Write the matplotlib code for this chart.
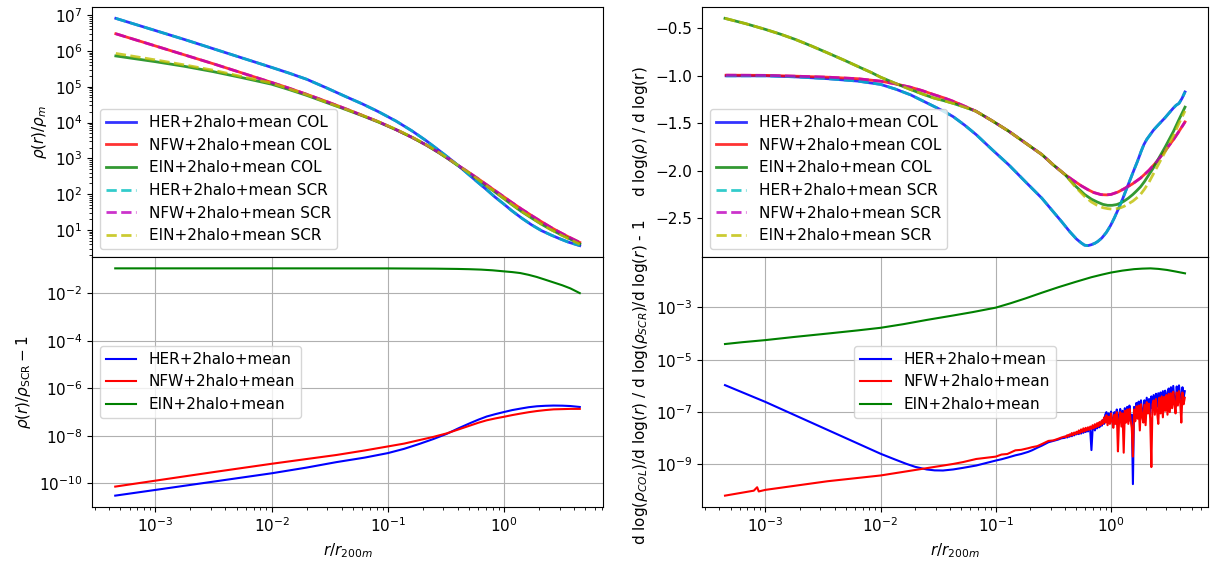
import matplotlib

matplotlib.use("Agg")
import matplotlib.pyplot as plt
import matplotlib.ticker as mticker
import numpy as np

plt.rcParams["font.size"] = 11

# All curves are stored as log10 values, sampled at log10(r / r200m).

# ---- density profiles, rho(r) / rho_m ----
dens_x = [-3.34, -3.17, -3.0, -2.75, -2.5, -2.25, -2.0, -1.85, -1.7, -1.53,
          -1.36, -1.22, -1.08, -0.93, -0.79, -0.67, -0.56, -0.48, -0.40, -0.31,
          -0.22, -0.15, -0.08, -0.01, 0.064, 0.15, 0.236, 0.32, 0.407, 0.48,
          0.55, 0.60, 0.65]
her_dens = [6.91, 6.74, 6.57, 6.32, 6.06, 5.80, 5.54, 5.38, 5.21, 4.97,
            4.72, 4.52, 4.30, 4.04, 3.76, 3.49, 3.22, 3.02, 2.81, 2.56,
            2.31, 2.12, 1.92, 1.74, 1.54, 1.33, 1.14, 0.98, 0.85, 0.75,
            0.66, 0.61, 0.56]
nfw_dens = [6.48, 6.31, 6.14, 5.89, 5.64, 5.38, 5.12, 4.96, 4.79, 4.59,
            4.38, 4.20, 4.02, 3.80, 3.58, 3.37, 3.16, 2.99, 2.81, 2.62,
            2.42, 2.26, 2.10, 1.94, 1.77, 1.58, 1.40, 1.23, 1.06, 0.93,
            0.81, 0.73, 0.65]
ein_dens = [5.86, 5.78, 5.70, 5.57, 5.42, 5.25, 5.07, 4.92, 4.76, 4.56,
            4.36, 4.19, 4.01, 3.80, 3.58, 3.37, 3.15, 2.98, 2.80, 2.60,
            2.39, 2.22, 2.06, 1.89, 1.71, 1.51, 1.33, 1.16, 1.00, 0.88,
            0.77, 0.69, 0.61]
ein_dens_scr = [5.93, 5.84, 5.75, 5.61, 5.46, 5.28, 5.10, 4.94, 4.78, 4.57,
                4.37, 4.20, 4.02, 3.81, 3.59, 3.38, 3.16, 2.99, 2.81, 2.61,
                2.40, 2.23, 2.07, 1.90, 1.72, 1.52, 1.34, 1.16, 1.00, 0.87,
                0.76, 0.68, 0.60]

# ---- logarithmic slope d log(rho) / d log(r) (linear values) ----
her_slope_x = [-3.34, -3.0, -2.75, -2.46, -2.2, -2.0, -1.87, -1.74, -1.64,
               -1.54, -1.45, -1.37, -1.27, -1.17, -1.03, -0.886, -0.74, -0.6,
               -0.51, -0.43, -0.36, -0.30, -0.26, -0.23, -0.20, -0.17, -0.14,
               -0.115, -0.08, -0.04, -0.005, 0.028, 0.065, 0.10, 0.135, 0.171,
               0.20, 0.23, 0.26, 0.285, 0.31, 0.34, 0.37, 0.40, 0.435, 0.47,
               0.505, 0.542, 0.565, 0.59, 0.615, 0.642]
her_slope = [-1.00, -1.00, -1.01, -1.03, -1.055, -1.09, -1.14, -1.20, -1.26,
             -1.32, -1.375, -1.43, -1.52, -1.62, -1.78, -1.94, -2.12, -2.29,
             -2.42, -2.535, -2.64, -2.72, -2.76, -2.785, -2.79, -2.78, -2.765,
             -2.746, -2.71, -2.65, -2.58, -2.50, -2.40, -2.30, -2.19, -2.08,
             -1.99, -1.90, -1.80, -1.725, -1.67, -1.62, -1.57, -1.53, -1.485,
             -1.44, -1.39, -1.338, -1.31, -1.29, -1.24, -1.17]
nfw_slope_x = [-3.34, -3.0, -2.75, -2.46, -2.2, -2.0, -1.87, -1.74, -1.64,
               -1.54, -1.45, -1.37, -1.27, -1.172, -1.03, -0.886, -0.74, -0.6,
               -0.5, -0.40, -0.33, -0.257, -0.2, -0.15, -0.087, -0.04, 0.0,
               0.06, 0.114, 0.185, 0.256, 0.33, 0.40, 0.47, 0.542, 0.59, 0.642]
nfw_slope = [-0.993, -0.995, -1.003, -1.014, -1.03, -1.056, -1.085, -1.12,
             -1.155, -1.197, -1.232, -1.268, -1.32, -1.373, -1.475, -1.585,
             -1.71, -1.83, -1.94, -2.04, -2.10, -2.16, -2.20, -2.23, -2.252,
             -2.255, -2.25, -2.225, -2.19, -2.14, -2.078, -1.995, -1.90, -1.79,
             -1.672, -1.585, -1.486]
ein_slope_x = [-3.35, -3.17, -3.0, -2.87, -2.74, -2.6, -2.46, -2.31, -2.17,
               -2.08, -2.0, -1.87, -1.74, -1.64, -1.54, -1.45, -1.37, -1.27,
               -1.172, -1.03, -0.886, -0.74, -0.6, -0.5, -0.40, -0.31, -0.23,
               -0.17, -0.12, -0.07, -0.03, 0.01, 0.05, 0.085, 0.114, 0.15,
               0.19, 0.22, 0.256, 0.29, 0.33, 0.365, 0.40, 0.435, 0.47, 0.505,
               0.542, 0.59, 0.642]
ein_slope = [-0.394, -0.45, -0.51, -0.56, -0.616, -0.685, -0.758, -0.838,
             -0.916, -0.965, -1.014, -1.08, -1.144, -1.19, -1.233, -1.262,
             -1.29, -1.33, -1.373, -1.475, -1.585, -1.71, -1.83, -1.94, -2.04,
             -2.16, -2.25, -2.30, -2.33, -2.355, -2.365, -2.365, -2.357, -2.34,
             -2.32, -2.29, -2.25, -2.215, -2.17, -2.115, -2.04, -1.975, -1.90,
             -1.825, -1.75, -1.67, -1.585, -1.46, -1.33]
ein_slope_scr = [-0.394, -0.45, -0.51, -0.56, -0.616, -0.685, -0.758, -0.838,
                 -0.916, -0.965, -1.014, -1.08, -1.144, -1.19, -1.233, -1.262,
                 -1.29, -1.33, -1.373, -1.475, -1.585, -1.71, -1.83, -1.94,
                 -2.04, -2.17, -2.27, -2.33, -2.365, -2.39, -2.40, -2.405,
                 -2.40, -2.39, -2.375, -2.35, -2.32, -2.29, -2.25, -2.195,
                 -2.12, -2.04, -1.96, -1.88, -1.80, -1.715, -1.63, -1.50, -1.37]

# ---- rho_COL / rho_SCR - 1 ----
rat_x = [-3.345, -3.0, -2.5, -2.0, -1.7, -1.443, -1.2, -1.0, -0.86, -0.727,
         -0.61, -0.494, -0.39, -0.293, -0.22, -0.15, -0.075, 0.0, 0.07, 0.138,
         0.21, 0.282, 0.355, 0.425, 0.5, 0.569, 0.65]
her_rat = [-10.52, -10.28, -9.93, -9.58, -9.34, -9.11, -8.92, -8.73, -8.55,
           -8.34, -8.14, -7.92, -7.68, -7.47, -7.32, -7.19, -7.09, -7.00,
           -6.92, -6.86, -6.80, -6.76, -6.74, -6.73, -6.735, -6.75, -6.79]
nfw_rat = [-10.14, -9.89, -9.53, -9.18, -8.98, -8.81, -8.62, -8.45, -8.33,
           -8.18, -8.05, -7.90, -7.73, -7.57, -7.45, -7.35, -7.27, -7.20,
           -7.13, -7.07, -7.01, -6.96, -6.92, -6.89, -6.88, -6.87, -6.87]
ein_rat_x = [-3.345, -2.0, -1.0, -0.6, -0.4, -0.3, -0.2, -0.1, 0.0, 0.07,
             0.138, 0.21, 0.28, 0.35, 0.425, 0.5, 0.569, 0.65]
ein_rat = [-0.958, -0.958, -0.960, -0.970, -0.982, -0.993, -1.01, -1.04,
           -1.085, -1.115, -1.155, -1.23, -1.32, -1.43, -1.55, -1.67, -1.80,
           -2.0]

# ---- slope ratio COL / SCR - 1 ----
ein_sr_x = [-3.35, -3.2, -3.0, -2.75, -2.46, -2.2, -2.0, -1.8, -1.6, -1.37,
            -1.2, -1.0, -0.87, -0.744, -0.6, -0.457, -0.31, -0.172, -0.08,
            0.0, 0.1, 0.2, 0.27, 0.342, 0.41, 0.485, 0.56, 0.642]
ein_sr = [-4.40, -4.33, -4.25, -4.13, -4.00, -3.88, -3.78, -3.64, -3.48,
          -3.31, -3.18, -3.01, -2.84, -2.66, -2.44, -2.23, -2.03, -1.85,
          -1.75, -1.67, -1.595, -1.54, -1.52, -1.51, -1.53, -1.57, -1.63, -1.70]

# smooth inner part of HER and NFW
her_sr_in_x = [-3.35, -3.0, -2.5, -2.0, -1.88, -1.78, -1.70, -1.6, -1.53,
               -1.458, -1.37, -1.286, -1.17, -1.0, -0.95, -0.90, -0.83, -0.78,
               -0.72, -0.686, -0.64, -0.60, -0.543, -0.50, -0.46, -0.43]
her_sr_in = [-5.97, -6.61, -7.60, -8.59, -8.80, -8.97, -9.09, -9.19, -9.225,
             -9.23, -9.19, -9.13, -9.04, -8.85, -8.80, -8.74, -8.65, -8.60,
             -8.52, -8.46, -8.36, -8.28, -8.15, -8.10, -8.05, -8.00]
nfw_sr_in_x = [-3.35, -3.10, -3.071, -3.057, -3.0, -2.46, -2.0, -1.6, -1.458,
               -1.37, -1.286, -1.17, -1.0, -0.95, -0.90, -0.83, -0.78, -0.72,
               -0.686, -0.64, -0.60, -0.543, -0.50, -0.46, -0.43]
nfw_sr_in = [-10.19, -10.00, -9.87, -10.03, -9.97, -9.64, -9.42, -9.14,
             -9.04, -8.98, -8.91, -8.79, -8.70, -8.62, -8.60, -8.46, -8.44,
             -8.38, -8.34, -8.30, -8.22, -8.10, -8.08, -8.02, -7.97]

# noisy outer part, read on a 0.01 dex grid
noise_x = [-0.40, -0.39, -0.38, -0.37, -0.36, -0.35, -0.34, -0.33, -0.32, -0.31,
           -0.30, -0.29, -0.28, -0.27, -0.26, -0.25, -0.24, -0.23, -0.22, -0.21,
           -0.20, -0.19, -0.18, -0.17, -0.16, -0.15, -0.14, -0.13, -0.12, -0.11,
           -0.10, -0.09, -0.08, -0.07, -0.06, -0.05, -0.04, -0.03, -0.02, -0.01,
           0.00, 0.01, 0.02, 0.03, 0.04, 0.05, 0.06, 0.07, 0.08, 0.09,
           0.10, 0.11, 0.12, 0.13, 0.14, 0.15, 0.16, 0.17, 0.18, 0.19,
           0.20, 0.21, 0.22, 0.23, 0.24, 0.25, 0.26, 0.27, 0.28, 0.29,
           0.30, 0.31, 0.32, 0.33, 0.34, 0.35, 0.36, 0.37, 0.38, 0.39,
           0.40, 0.41, 0.42, 0.43, 0.44, 0.45, 0.46, 0.47, 0.48, 0.49,
           0.50, 0.51, 0.52, 0.53, 0.54, 0.55, 0.56, 0.57, 0.58, 0.59,
           0.60, 0.61, 0.62, 0.63, 0.64]
her_sr_out = [-7.98, -7.92, -7.97, -7.90, -7.94, -7.86, -7.92, -7.84, -7.89, -7.82,
              -7.85, -7.78, -7.84, -7.74, -7.82, -7.70, -7.79, -7.68, -7.76, -7.65,
              -7.74, -7.60, -7.72, -8.45, -7.66, -7.55, -7.70, -7.52, -7.62, -7.45,
              -7.58, -7.40, -7.52, -7.30, -7.45, -7.10, -7.00, -7.35, -7.05, -7.40,
              -6.98, -7.30, -7.50, -7.00, -7.35, -6.90, -7.55, -7.10, -6.88, -7.40,
              -6.95, -7.45, -6.85, -7.30, -6.80, -7.20, -6.75, -7.35, -7.10, -9.75,
              -6.80, -7.20, -6.65, -7.05, -6.60, -7.30, -6.55, -6.95, -7.25, -6.55,
              -7.00, -6.45, -6.90, -6.50, -7.10, -6.40, -6.85, -6.35, -6.95, -6.30,
              -6.80, -6.28, -6.90, -6.25, -6.75, -6.20, -6.85, -6.18, -6.70, -6.30,
              -6.10, -6.75, -6.05, -6.60, -6.00, -6.55, -6.80, -6.02, -6.50, -5.98,
              -6.40, -6.70, -6.05, -6.45, -6.20]
nfw_sr_out = [-7.93, -7.96, -7.88, -7.92, -7.85, -7.90, -7.80, -7.88, -7.78, -7.84,
              -7.75, -7.82, -7.70, -7.80, -7.66, -7.76, -7.62, -7.74, -7.60, -7.70,
              -7.58, -7.68, -7.55, -7.64, -7.50, -7.62, -7.46, -7.58, -7.42, -7.55,
              -7.38, -7.50, -7.32, -7.45, -7.20, -7.40, -7.12, -7.50, -7.18, -7.45,
              -7.05, -7.35, -7.60, -7.10, -7.45, -7.00, -8.50, -7.30, -7.00, -7.55,
              -7.05, -8.55, -6.95, -7.40, -6.90, -7.45, -6.88, -7.30, -7.60, -8.70,
              -6.90, -7.35, -6.78, -7.25, -6.75, -7.70, -6.70, -7.15, -7.40, -6.72,
              -7.50, -6.62, -7.05, -6.68, -7.25, -9.10, -6.70, -6.55, -7.10, -6.50,
              -7.00, -7.45, -6.45, -7.05, -6.40, -7.20, -6.42, -6.95, -6.35, -7.10,
              -6.30, -7.00, -6.28, -6.85, -6.22, -6.70, -7.05, -6.25, -6.75, -6.20,
              -6.60, -7.40, -6.25, -6.70, -6.45]


def p10(a):
    return np.power(10.0, np.asarray(a, dtype=float))


W, H = 1210, 562
fig = plt.figure(figsize=(W / 100, H / 100), dpi=100)
ax_tl = fig.add_axes([92 / W, 1 - 257 / H, 511 / W, 250 / H])
ax_bl = fig.add_axes([92 / W, 1 - 507 / H, 511 / W, 250 / H], sharex=ax_tl)
ax_tr = fig.add_axes([702 / W, 1 - 257 / H, 506 / W, 250 / H])
ax_br = fig.add_axes([702 / W, 1 - 507 / H, 506 / W, 250 / H], sharex=ax_tr)

lw_top = 2.0
a_top = 0.8

# density
ax = ax_tl
ax.plot(p10(dens_x), p10(her_dens), "b-", lw=lw_top, alpha=a_top, label="HER+2halo+mean COL")
ax.plot(p10(dens_x), p10(nfw_dens), "r-", lw=lw_top, alpha=a_top, label="NFW+2halo+mean COL")
ax.plot(p10(dens_x), p10(ein_dens), "g-", lw=lw_top, alpha=a_top, label="EIN+2halo+mean COL")
ax.plot(p10(dens_x), p10(her_dens), "c--", lw=lw_top, alpha=a_top, label="HER+2halo+mean SCR")
ax.plot(p10(dens_x), p10(nfw_dens), "m--", lw=lw_top, alpha=a_top, label="NFW+2halo+mean SCR")
ax.plot(p10(dens_x), p10(ein_dens_scr), "y--", lw=lw_top, alpha=a_top, label="EIN+2halo+mean SCR")
ax.set_xscale("log")
ax.set_yscale("log")
ax.yaxis.set_major_locator(mticker.FixedLocator([1e1, 1e2, 1e3, 1e4, 1e5, 1e6, 1e7]))
ax.set_ylabel(r"$\rho(r)/\rho_m$")
ax.legend(loc="lower left")
ax.tick_params(labelbottom=False)

# slope
ax = ax_tr
ax.plot(p10(her_slope_x), her_slope, "b-", lw=lw_top, alpha=a_top, label="HER+2halo+mean COL")
ax.plot(p10(nfw_slope_x), nfw_slope, "r-", lw=lw_top, alpha=a_top, label="NFW+2halo+mean COL")
ax.plot(p10(ein_slope_x), ein_slope, "g-", lw=lw_top, alpha=a_top, label="EIN+2halo+mean COL")
ax.plot(p10(her_slope_x), her_slope, "c--", lw=lw_top, alpha=a_top, label="HER+2halo+mean SCR")
ax.plot(p10(nfw_slope_x), nfw_slope, "m--", lw=lw_top, alpha=a_top, label="NFW+2halo+mean SCR")
ax.plot(p10(ein_slope_x), ein_slope_scr, "y--", lw=lw_top, alpha=a_top, label="EIN+2halo+mean SCR")
ax.set_xscale("log")
ax.set_ylabel("d log($\\rho$) / d log(r)")
ax.legend(loc="lower left")
ax.tick_params(labelbottom=False)

# density ratio
ax = ax_bl
ax.plot(p10(rat_x), p10(her_rat), "b-", label="HER+2halo+mean")
ax.plot(p10(rat_x), p10(nfw_rat), "r-", label="NFW+2halo+mean")
ax.plot(p10(ein_rat_x), p10(ein_rat), "g-", label="EIN+2halo+mean")
ax.set_yscale("log")
ax.yaxis.set_major_locator(mticker.FixedLocator([1e-10, 1e-8, 1e-6, 1e-4, 1e-2]))
ax.yaxis.set_minor_locator(mticker.NullLocator())
ax.set_ylabel(r"$\rho(r)/\rho_{\rm SCR} - 1$")
ax.set_xlabel(r"$r/r_{200m}$")
ax.grid(True)
ax.legend(loc="center left")

# slope ratio
ax = ax_br
ax.plot(p10(her_sr_in_x + noise_x), p10(her_sr_in + her_sr_out), "b-", label="HER+2halo+mean")
ax.plot(p10(nfw_sr_in_x + noise_x), p10(nfw_sr_in + nfw_sr_out), "r-", label="NFW+2halo+mean")
ax.plot(p10(ein_sr_x), p10(ein_sr), "g-", label="EIN+2halo+mean")
ax.set_yscale("log")
ax.yaxis.set_major_locator(mticker.FixedLocator([1e-9, 1e-7, 1e-5, 1e-3]))
ax.yaxis.set_minor_locator(mticker.NullLocator())
ax.set_ylabel(r"d log($\rho_{COL}$)/d log($r$) / d log($\rho_{SCR}$)/d log($r$) - 1")
ax.set_xlabel(r"$r/r_{200m}$")
ax.grid(True)
ax.legend(loc="center")

fig.savefig("out.png", dpi=100, facecolor="white")
